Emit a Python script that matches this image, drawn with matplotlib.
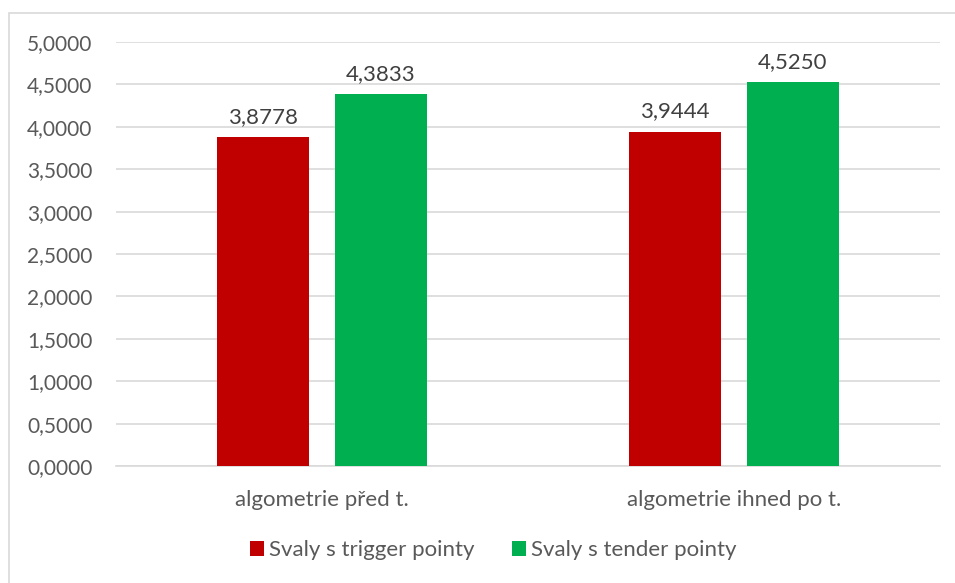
import matplotlib
matplotlib.use("Agg")
import matplotlib.pyplot as plt
from matplotlib.patches import Rectangle
from matplotlib.ticker import FuncFormatter, MultipleLocator
import numpy as np

categories = ["algometrie před t.", "algometrie ihned po t."]
series_names = ["Svaly s trigger pointy", "Svaly s tender pointy"]
trigger = [3.8778, 3.9444]
tender = [4.3833, 4.5250]
colors = ["#C00000", "#00B050"]

plt.rcParams['font.family'] = ['Lato', 'DejaVu Sans']
W, H = 955, 583
fig = plt.figure(figsize=(W / 100, H / 100), dpi=100)

# plot area in pixels
left, right, top, bottom = 116, 940, 42, 466
ax = fig.add_axes([left / W, 1 - bottom / H, (right - left) / W, (bottom - top) / H])

# outer chart border (only top-left edges visible in the reference)
fig.patches.append(Rectangle((9 / W, -0.05), 1.2, 1 - 13 / H + 0.05, transform=fig.transFigure,
                             fill=False, edgecolor="#D9D9D9", linewidth=1.2))

x = np.arange(len(categories))
bw = 0.223
off = 0.143
txt = "#595959"
for vals, sign, col, name in [(trigger, -1, colors[0], series_names[0]), (tender, 1, colors[1], series_names[1])]:
    bars = ax.bar(x + sign * off, vals, width=bw, color=col, label=name, zorder=3)
    for b, v in zip(bars, vals):
        ax.text(b.get_x() + b.get_width() / 2, v + 0.12, f"{v:.4f}".replace(".", ","),
                ha="center", va="bottom", fontsize=16, color="#404040")

ax.set_xlim(-0.5, 1.5)
ax.set_ylim(0, 5)
ax.yaxis.set_major_locator(MultipleLocator(0.5))
ax.yaxis.set_major_formatter(FuncFormatter(lambda v, p: f"{v:.4f}".replace(".", ",")))
ax.grid(axis="y", color="#D9D9D9", linewidth=1.2, zorder=0)
ax.set_xticks(x)
ax.set_xticklabels(categories)
for s in ["top", "right", "left"]:
    ax.spines[s].set_visible(False)
ax.spines["bottom"].set_color("#D9D9D9")
ax.spines["bottom"].set_linewidth(1.2)
ax.tick_params(axis="both", length=0, colors=txt)
ax.tick_params(axis="y", pad=17, labelsize=15)
ax.tick_params(axis="x", pad=17, labelsize=16)

leg = fig.legend(loc="center", bbox_to_anchor=(493 / W, 1 - 550 / H), ncol=2, frameon=False,
                 fontsize=16, handlelength=0.65, handleheight=0.65, handletextpad=0.2,
                 columnspacing=1.7, labelcolor=txt)

fig.savefig("out.png", dpi=100)
